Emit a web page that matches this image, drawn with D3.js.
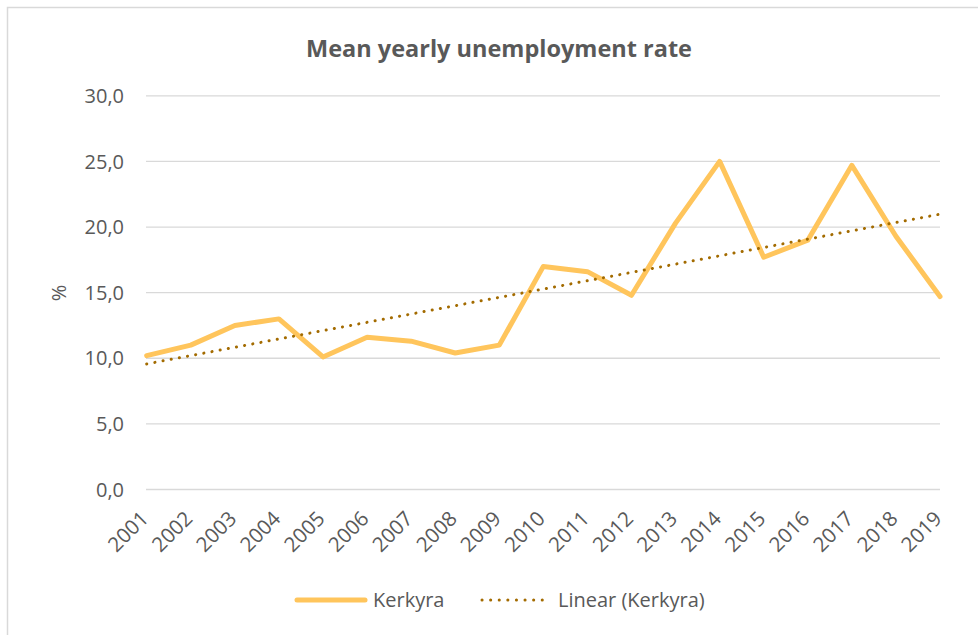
<!DOCTYPE html>
<html>
<head>
<meta charset="utf-8">
<script src="https://cdn.jsdelivr.net/npm/d3@7"></script>
<style>
  body { margin: 0; background: #fff; }
  text { font-family: "Open Sans", sans-serif; fill: #595959; }
</style>
</head>
<body>
<svg id="chart" width="978" height="635"></svg>
<script>
// data
var years = ["2001","2002","2003","2004","2005","2006","2007","2008","2009","2010",
             "2011","2012","2013","2014","2015","2016","2017","2018","2019"];
var kerkyra = [10.2, 11.0, 12.5, 13.0, 10.1, 11.6, 11.3, 10.4, 11.0, 17.0,
               16.6, 14.8, 20.3, 25.0, 17.7, 19.0, 24.7, 19.3, 14.7];
var yTicks = [0, 5, 10, 15, 20, 25, 30];

var svg = d3.select("svg#chart");

// frame
svg.append("rect")
  .attr("x", 7.5).attr("y", 7.5)
  .attr("width", 990).attr("height", 650)
  .attr("fill", "none").attr("stroke", "#d9d9d9").attr("stroke-width", 1.5);

// scales
var x = d3.scalePoint().domain(years).range([146.7, 940]);
var y = d3.scaleLinear().domain([0, 30]).range([489.5, 95.8]);

// gridlines
svg.append("g").selectAll("line")
  .data(yTicks).enter().append("line")
  .attr("x1", 146).attr("x2", 940)
  .attr("y1", function(d) { return y(d); })
  .attr("y2", function(d) { return y(d); })
  .attr("stroke", "#d9d9d9").attr("stroke-width", 1.3);

// y axis labels
var fmt = function(d) { return d3.format(".1f")(d).replace(".", ","); };
svg.append("g").selectAll("text")
  .data(yTicks).enter().append("text")
  .attr("x", 124).attr("y", function(d) { return y(d); })
  .attr("dy", "0.36em")
  .attr("text-anchor", "end")
  .style("font-size", "20px")
  .text(fmt);

// x axis labels
svg.append("g").selectAll("text")
  .data(years).enter().append("text")
  .attr("transform", function(d) { return "translate(" + (x(d) + 3) + ",520) rotate(-45)"; })
  .attr("text-anchor", "end")
  .style("font-size", "20.5px")
  .text(function(d) { return d; });

// y title
svg.append("text")
  .attr("transform", "translate(66,293) rotate(-90)")
  .attr("text-anchor", "middle")
  .style("font-size", "20px")
  .text("%");

// title
svg.append("text")
  .attr("x", 499).attr("y", 57)
  .attr("text-anchor", "middle")
  .style("font-size", "23.5px").style("font-weight", "bold")
  .text("Mean yearly unemployment rate");

// linear trend (least squares)
var n = kerkyra.length;
var xs = d3.range(n);
var mx = d3.mean(xs), my = d3.mean(kerkyra);
var slope = d3.sum(xs, function(i) { return (i - mx) * (kerkyra[i] - my); }) /
            d3.sum(xs, function(i) { return (i - mx) * (i - mx); });
var icpt = my - slope * mx;

var line = d3.line()
  .x(function(d, i) { return x(years[i]); })
  .y(function(d) { return y(d); });

svg.append("path")
  .datum(kerkyra)
  .attr("d", line)
  .attr("fill", "none")
  .attr("stroke", "#ffc55c")
  .attr("stroke-width", 5)
  .attr("stroke-linejoin", "round")
  .attr("stroke-linecap", "round");

svg.append("path")
  .datum(xs.map(function(i) { return icpt + slope * i; }))
  .attr("d", line)
  .attr("fill", "none")
  .attr("stroke", "#a36b00")
  .attr("stroke-width", 3)
  .attr("stroke-linecap", "round")
  .attr("stroke-dasharray", "0.1 8.2");

// legend
var leg = svg.append("g");
leg.append("line")
  .attr("x1", 297).attr("x2", 365).attr("y1", 600).attr("y2", 600)
  .attr("stroke", "#ffc55c").attr("stroke-width", 5).attr("stroke-linecap", "round");
leg.append("text")
  .attr("x", 373).attr("y", 600).attr("dy", "0.36em")
  .style("font-size", "20px").text("Kerkyra");
leg.append("line")
  .attr("x1", 482).attr("x2", 550).attr("y1", 600).attr("y2", 600)
  .attr("stroke", "#a36b00").attr("stroke-width", 3).attr("stroke-linecap", "round")
  .attr("stroke-dasharray", "0.1 8.5");
leg.append("text")
  .attr("x", 558).attr("y", 600).attr("dy", "0.36em")
  .style("font-size", "20px").text("Linear (Kerkyra)");
</script>
</body>
</html>
